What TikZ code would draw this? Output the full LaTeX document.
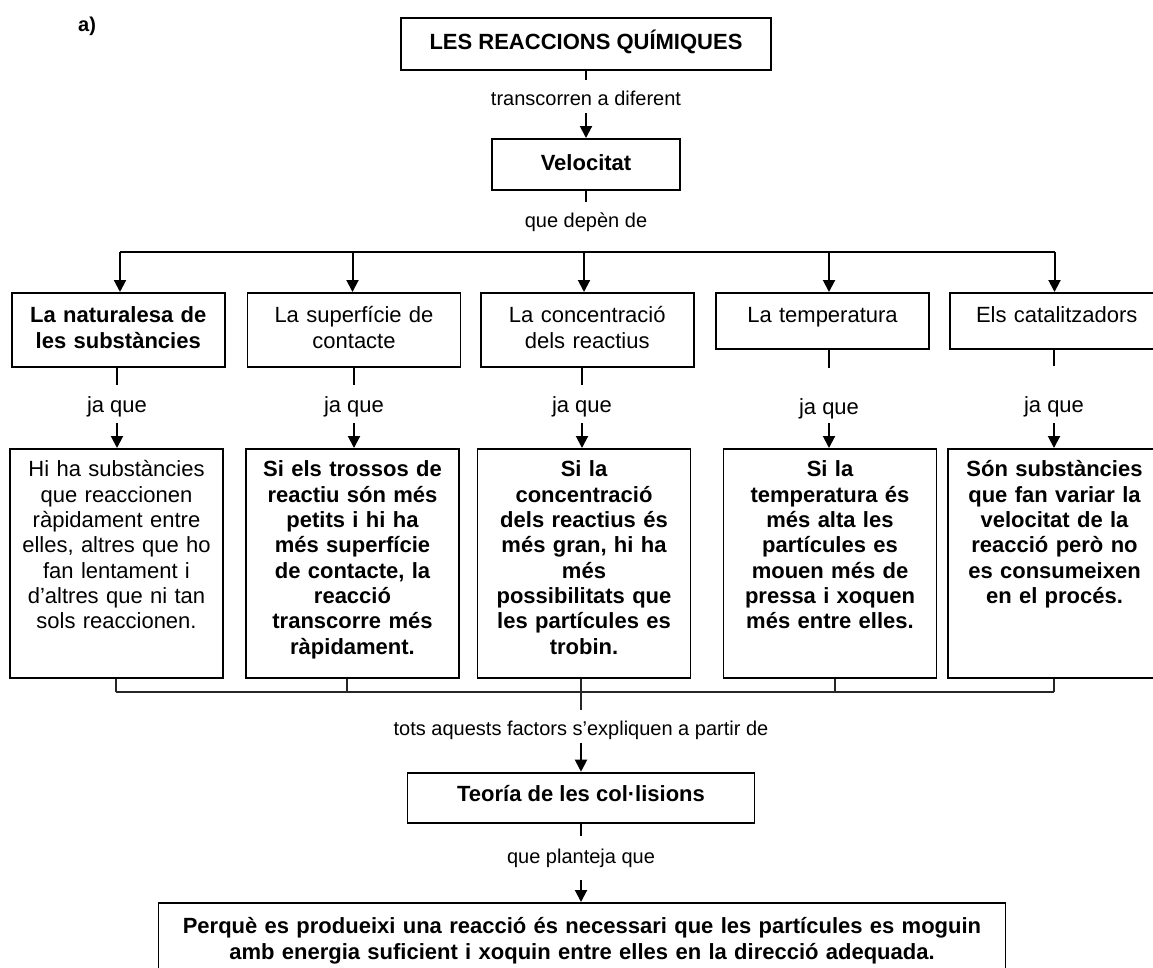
\documentclass[tikz,border=0pt]{standalone}
\usepackage{fontspec}
\setmainfont{Liberation Sans}
\usetikzlibrary{positioning,arrows.meta}
\newcommand{\boxfont}{\fontsize{22}{25.3}\selectfont}
\newcommand{\labfont}{\fontsize{20}{24}\selectfont}
\tikzset{
  concept/.style={draw=black, line width=1.8pt, inner xsep=4pt, inner ysep=0pt,
    align=center, font=\boxfont, anchor=north},
  factor/.style={concept, text width=205pt, text height=30pt, text depth=44pt},
  factorlow/.style={concept, text width=205pt, text height=30pt, text depth=26pt},
  reason/.style={concept, text width=205pt, text height=28pt, text depth=201pt},
  link/.style={inner sep=0pt, anchor=base, font=\labfont, text height=25pt, text depth=8pt},
  jaque/.style={link, font=\boxfont, text height=27pt, text depth=11pt},
  conn/.style={line width=2pt, draw=black},
  flow/.style={conn, -{Triangle[length=12pt,width=12pt]}},
  bracket/.style={line width=1.6pt, draw=black!85}
}

\begin{document}
\begin{tikzpicture}[x=1pt, y=-1pt]
  \useasboundingbox (0,0) rectangle (1153,967);

  \node[anchor=base west, inner sep=0pt, font=\labfont\bfseries] (tag) at (78,31.7) {a)};

  \node[concept, font=\boxfont\bfseries, minimum width=370pt, text height=32pt, text depth=20pt] (title) at (586,17) {LES REACCIONS QUÍMIQUES};
  \node[link] (l1) at (586,105) {transcorren a diferent};
  \node[concept, font=\boxfont\bfseries, minimum width=188pt, text height=32pt, text depth=19pt] (velo) at (586,138) {Velocitat};
  \node[link] (l2) at (586,227) {que depèn de};

  \draw[conn] (title) -- (l1);
  \draw[flow] (l1) -- (velo);
  \draw[conn] (velo) -- (l2);

  % factors
  \coordinate (a1) at (120,252);
  \coordinate (a2) at (352.5,252);
  \coordinate (a3) at (584,252);
  \coordinate (a4) at (829,252);
  \coordinate (a5) at (1054.5,252);

  \node[factor, font=\boxfont\bfseries] (r1) at (118.25,292) {La naturalesa de\\les substàncies};
  \node[factor] (r2) at (354,292) {La superfície de\\contacte};
  \node[factor] (r3) at (587.25,292) {La concentració\\dels reactius};
  \node[factorlow] (r4) at (822.5,292) {La temperatura};
  \node[factorlow] (r5) at (1056.75,292) {Els catalitzadors};

  \draw[conn] (a1) -- (a5);
  \foreach \i in {1,...,5}
    \draw[flow] (a\i) -- (r\i.north -| a\i);

  \node[jaque] (j1) at (117,412) {ja que};
  \node[jaque] (j2) at (354,412) {ja que};
  \node[jaque] (j3) at (582,412) {ja que};
  \node[jaque, text height=46pt, text depth=9pt] (j4) at (829,414) {ja que};
  \node[jaque, text height=46pt] (j5) at (1054,412) {ja que};

  % explanations
  \node[reason] (s1) at (116.5,448) {Hi ha substàncies\\que reaccionen\\ràpidament entre\\elles, altres que ho\\fan lentament i\\d’altres que ni tan\\sols reaccionen.};
  \node[reason, font=\boxfont\bfseries] (s2) at (352.5,448) {Si els trossos de\\reactiu són més\\petits i hi ha\\més superfície\\de contacte, la\\reacció\\transcorre més\\ràpidament.};
  \node[reason, font=\boxfont\bfseries] (s3) at (584,448) {Si la\\concentració\\dels reactius és\\més gran, hi ha\\més\\possibilitats que\\les partícules es\\trobin.};
  \node[reason, font=\boxfont\bfseries] (s4) at (830,448) {Si la\\temperatura és\\més alta les\\partícules es\\mouen més de\\pressa i xoquen\\més entre elles.};
  \node[reason, font=\boxfont\bfseries] (s5) at (1054.5,448) {Són substàncies\\que fan variar la\\velocitat de la\\reacció però no\\es consumeixen\\en el procés.};

  \foreach \i in {1,...,5} {
    \draw[conn] (r\i.south -| j\i) -- (j\i);
    \draw[flow] (j\i) -- (s\i.north -| j\i);
  }

  % bracket below the explanations
  \coordinate (t1) at (116,692);
  \coordinate (t2) at (347,692);
  \coordinate (t3) at (581,692);
  \coordinate (t4) at (835,692);
  \coordinate (t5) at (1054,692);
  \foreach \i in {1,...,5}
    \draw[bracket] (s\i.south -| t\i) -- (t\i);
  \draw[bracket] (t1) -- (t5);

  \node[link] (l3) at (581,735) {tots aquests factors s’expliquen a partir de};
  \node[concept, font=\boxfont\bfseries, minimum width=347pt, text height=29pt, text depth=21pt] (theory) at (581,771.7) {Teoría de les col·lisions};
  \node[link, text height=27pt, text depth=17pt] (l4) at (581,863) {que planteja que};
  \node[concept, font=\boxfont\bfseries, text width=839pt, text height=31pt, text depth=90pt] (final) at (582,902) {Perquè es produeixi una reacció és necessari que les partícules es moguin\\amb energia suficient i xoquin entre elles en la direcció adequada.};

  \draw[bracket] (t3) -- (l3);
  \draw[flow] (l3) -- (theory);
  \draw[conn] (theory) -- (l4);
  \draw[flow] (l4) -- (final.north -| l4);

\end{tikzpicture}
\end{document}
